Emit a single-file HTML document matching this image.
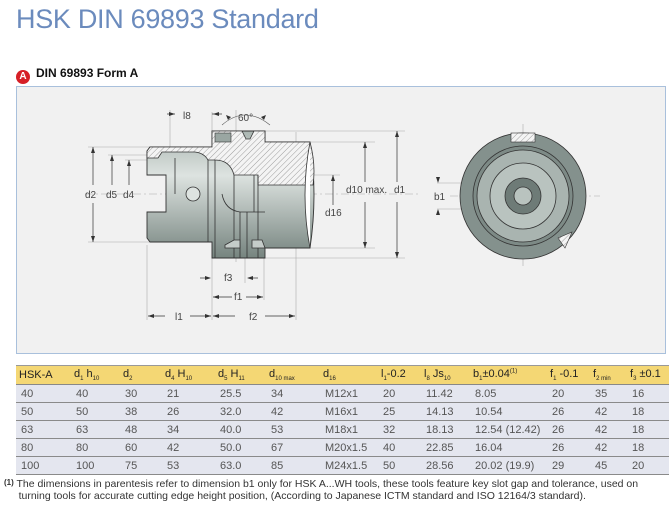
<!DOCTYPE html>
<html><head><meta charset="utf-8"><style>
body{margin:0;width:669px;height:521px;background:#fff;font-family:"Liberation Sans",sans-serif;position:relative;overflow:hidden}
.t{position:absolute;left:16px;top:4px;font-size:27px;color:#6b8bbd;letter-spacing:-0.3px}
.sub{position:absolute;left:16px;top:66px;font-size:12px;font-weight:bold;color:#111}
.badge{display:inline-block;width:14px;height:14px;border-radius:7px;background:#d61f26;color:#fff;font-size:10px;text-align:center;line-height:14px;margin-right:6px;vertical-align:-2px}
.panel{position:absolute;left:16px;top:86px;width:648px;height:266px;background:#f1f1f1;border:1px solid #a9c0dc}
table{position:absolute;left:16px;top:365px;width:653px;border-collapse:collapse;font-size:11px;color:#555;table-layout:fixed}
th{background:#f4d774;color:#222;font-weight:normal;text-align:left;height:18px;padding:0 0 0 3px;border-bottom:1px solid #888;border-top:1px solid #999;white-space:nowrap;overflow:hidden}
td{background:#e4e6ef;height:17px;padding:0 0 0 5px;border-bottom:1px solid #8a8a8a;white-space:nowrap}
sub{font-size:6px}
.fn{position:absolute;left:4px;top:477px;font-size:10.5px;color:#333;line-height:12px}
</style></head><body>
<div class="t">HSK DIN 69893 Standard</div>
<div class="sub"><span class="badge">A</span>DIN 69893 Form A</div>
<div class="panel"></div>
<svg width="669" height="521" style="position:absolute;left:0;top:0" font-family="Liberation Sans" font-size="10" fill="#555">
<defs>
<linearGradient id="g" x1="0" y1="0" x2="0" y2="1"><stop offset="0" stop-color="#aab5b1"/><stop offset=".35" stop-color="#dde3e0"/><stop offset="1" stop-color="#76847f"/></linearGradient>
<pattern id="h" width="4" height="4" patternUnits="userSpaceOnUse" patternTransform="rotate(45)"><rect width="4" height="4" fill="#f4f4f4"/><line x1="0" y1="0" x2="0" y2="4" stroke="#888" stroke-width="0.8"/></pattern>
</defs>
<g stroke="#aaa" stroke-width="0.6">
<line x1="85" y1="194" x2="420" y2="194" stroke-dasharray="8,3,2,3"/>
<line x1="236" y1="110" x2="236" y2="262"/>
<line x1="296" y1="132" x2="296" y2="320"/>
<line x1="170" y1="110" x2="170" y2="230"/>
<line x1="147" y1="245" x2="147" y2="320"/>
<line x1="212" y1="112" x2="212" y2="320"/>
<line x1="264" y1="258" x2="264" y2="300"/>
<line x1="245" y1="250" x2="245" y2="283"/>
<line x1="88" y1="147" x2="150" y2="147"/><line x1="88" y1="242" x2="150" y2="242"/>
<line x1="108" y1="155" x2="150" y2="155"/><line x1="125" y1="160" x2="150" y2="160"/>
<line x1="265" y1="131" x2="405" y2="131"/><line x1="265" y1="258" x2="405" y2="258"/>
<line x1="310" y1="142" x2="375" y2="142"/><line x1="310" y1="248" x2="375" y2="248"/>
<line x1="300" y1="175" x2="340" y2="175"/>
</g>
<path d="M150,147 L212,147 L212,131 L265,131 L265,142 L310,142 Q318,195 310,248 L265,248 L265,258 L212,258 L212,242 L150,242 L147,238 L147,212 L166,212 L166,175 L147,175 L147,151 Z" fill="url(#g)" stroke="#333" stroke-width="0.9"/>
<path d="M147,151 L150,147 L212,147 L212,131 L242,131 L246,139 L250,139 L254,131 L265,131 L265,142 L310,142 Q316,165 313,185 L258,185 L258,175 L234,175 Q230,160 215,160 L208,160 Q204,153 195,152 L162,152 L158,158 L147,158 Z" fill="url(#h)" stroke="#333" stroke-width="0.8"/>
<rect x="215" y="133" width="16" height="9" fill="#9aa6a2" stroke="#333" stroke-width="0.6"/>
<g stroke="#333" stroke-width="0.8" fill="none">
<line x1="175" y1="158" x2="175" y2="194"/><line x1="208" y1="160" x2="208" y2="242"/>
<line x1="215" y1="160" x2="215" y2="258"/><line x1="234" y1="175" x2="234" y2="258"/>
<line x1="240" y1="212" x2="240" y2="258"/><line x1="247" y1="212" x2="247" y2="258"/>
<line x1="254" y1="175" x2="254" y2="212"/><line x1="258" y1="175" x2="258" y2="258"/>
<path d="M222,194 Q225,210 240,212 L265,212"/>
<path d="M225,245 L234,240 L240,240 L240,248 L225,248 Z" fill="#c5ccc9"/>
<path d="M252,240 L262,240 L265,248 L252,248 Z" fill="#c5ccc9"/>
<path d="M310,142 Q300,195 310,248" fill="#fff" stroke="#333"/>
</g>
<circle cx="193" cy="194" r="7" fill="#dde3e0" stroke="#333" stroke-width="0.8"/>
<g stroke="#333" stroke-width="0.7" fill="#333">
<line x1="93" y1="147" x2="93" y2="185"/><line x1="93" y1="203" x2="93" y2="242"/>
<line x1="112" y1="155" x2="112" y2="185"/><line x1="129" y1="160" x2="129" y2="185"/>
<line x1="365" y1="142" x2="365" y2="182"/><line x1="365" y1="202" x2="365" y2="248"/>
<line x1="397" y1="131" x2="397" y2="182"/><line x1="397" y1="202" x2="397" y2="258"/>
<line x1="333" y1="175" x2="333" y2="205"/>
<line x1="148" y1="316" x2="165" y2="316"/><line x1="190" y1="316" x2="211" y2="316"/>
<line x1="213" y1="316" x2="235" y2="316"/><line x1="265" y1="316" x2="295" y2="316"/>
<line x1="213" y1="297" x2="232" y2="297"/><line x1="246" y1="297" x2="263" y2="297"/>
<line x1="200" y1="278" x2="210" y2="278"/><line x1="248" y1="278" x2="258" y2="278"/>
<line x1="167" y1="114" x2="175" y2="114"/><line x1="212" y1="114" x2="222" y2="114"/>
</g>
<g fill="#333">
<path d="M93,147 l-2,6 h4z"/><path d="M93,242 l-2,-6 h4z"/>
<path d="M112,155 l-2,6 h4z"/><path d="M129,160 l-2,6 h4z"/>
<path d="M365,142 l-2,6 h4z"/><path d="M365,248 l-2,-6 h4z"/>
<path d="M397,131 l-2,6 h4z"/><path d="M397,258 l-2,-6 h4z"/>
<path d="M333,175 l-2,6 h4z"/>
<path d="M148,316 l6,-2 v4z"/><path d="M211,316 l-6,-2 v4z"/><path d="M213,316 l6,-2 v4z"/><path d="M295,316 l-6,-2 v4z"/>
<path d="M213,297 l6,-2 v4z"/><path d="M263,297 l-6,-2 v4z"/>
<path d="M211,278 l-6,-2 v4z"/><path d="M247,278 l6,-2 v4z"/>
<path d="M175,114 l-6,-2 v4z"/><path d="M213,114 l6,-2 v4z"/>
<path d="M228,120 l-2,-5 l5,2z"/><path d="M264,120 l2,-5 l-5,2z"/>
</g>
<path d="M222,125 Q245,105 270,125" stroke="#555" stroke-width="0.6" fill="none"/>
<g font-size="10" fill="#444">
<text x="85" y="198">d2</text><text x="106" y="198">d5</text><text x="123" y="198">d4</text>
<text x="346" y="193">d10 max.</text><text x="394" y="193">d1</text><text x="325" y="216">d16</text>
<text x="183" y="119">l8</text><text x="238" y="121">60°</text>
<text x="224" y="281">f3</text><text x="234" y="300">f1</text><text x="249" y="320">f2</text><text x="175" y="320">l1</text>
<text x="434" y="200">b1</text>
</g>
<g stroke="#aaa" stroke-width="0.6"><line x1="523" y1="124" x2="523" y2="266"/><line x1="450" y1="196" x2="600" y2="196" stroke-dasharray="8,3,2,3"/>
<line x1="437" y1="183" x2="490" y2="183"/><line x1="437" y1="209" x2="490" y2="209"/></g>
<circle cx="523" cy="196" r="63" fill="#84918d" stroke="#333" stroke-width="0.8"/>
<circle cx="523" cy="196" r="50" fill="#7d8a86" stroke="#333" stroke-width="0.8"/>
<circle cx="523" cy="196" r="46" fill="#a9b4b0" stroke="#333" stroke-width="0.8"/>
<circle cx="523" cy="196" r="33" fill="#b9c3bf" stroke="#333" stroke-width="0.8"/>
<circle cx="523" cy="196" r="18" fill="#6e7b77" stroke="#333" stroke-width="0.8"/>
<circle cx="523" cy="196" r="9" fill="#b9c3bf" stroke="#333" stroke-width="0.8"/>
<rect x="511" y="133" width="24" height="9" fill="url(#h)" stroke="#333" stroke-width="0.6"/>
<path d="M558,238 L572,232 L565,248 Z" fill="url(#h)" stroke="#333" stroke-width="0.6"/>
<g fill="#333"><path d="M438,183 l-2,-6 h4z"/><path d="M438,209 l-2,6 h4z"/></g>
</svg>
<table>
<colgroup><col style="width:55px"><col style="width:49px"><col style="width:42px"><col style="width:53px"><col style="width:51px"><col style="width:54px"><col style="width:58px"><col style="width:43px"><col style="width:49px"><col style="width:77px"><col style="width:43px"><col style="width:37px"><col style="width:42px"></colgroup>
<tr><th>HSK-A</th><th>d<sub>1</sub> h<sub>10</sub></th><th>d<sub>2</sub></th><th>d<sub>4</sub> H<sub>10</sub></th><th>d<sub>5</sub> H<sub>11</sub></th><th>d<sub>10 max</sub></th><th>d<sub>16</sub></th><th>l<sub>1</sub>-0.2</th><th>l<sub>8</sub> Js<sub>10</sub></th><th>b<sub>1</sub>±0.04<sup style="font-size:6px">(1)</sup></th><th>f<sub>1</sub> -0.1</th><th>f<sub>2 min</sub></th><th>f<sub>3</sub> ±0.1</th></tr>
<tr><td>40</td><td>40</td><td>30</td><td>21</td><td>25.5</td><td>34</td><td>M12x1</td><td>20</td><td>11.42</td><td>8.05</td><td>20</td><td>35</td><td>16</td></tr>
<tr><td>50</td><td>50</td><td>38</td><td>26</td><td>32.0</td><td>42</td><td>M16x1</td><td>25</td><td>14.13</td><td>10.54</td><td>26</td><td>42</td><td>18</td></tr>
<tr><td>63</td><td>63</td><td>48</td><td>34</td><td>40.0</td><td>53</td><td>M18x1</td><td>32</td><td>18.13</td><td>12.54 (12.42)</td><td>26</td><td>42</td><td>18</td></tr>
<tr><td>80</td><td>80</td><td>60</td><td>42</td><td>50.0</td><td>67</td><td>M20x1.5</td><td>40</td><td>22.85</td><td>16.04</td><td>26</td><td>42</td><td>18</td></tr>
<tr><td>100</td><td>100</td><td>75</td><td>53</td><td>63.0</td><td>85</td><td>M24x1.5</td><td>50</td><td>28.56</td><td>20.02 (19.9)</td><td>29</td><td>45</td><td>20</td></tr>
</table>
<div class="fn"><b style="font-size:8px;vertical-align:2px">(1)</b> The dimensions in parentesis refer to dimension b1 only for HSK A...WH tools, these tools feature key slot gap and tolerance, used on<br>&nbsp;&nbsp;&nbsp;&nbsp;&nbsp;turning tools for accurate cutting edge height position, (According to Japanese ICTM standard and ISO 12164/3 standard).</div>
</body></html>
